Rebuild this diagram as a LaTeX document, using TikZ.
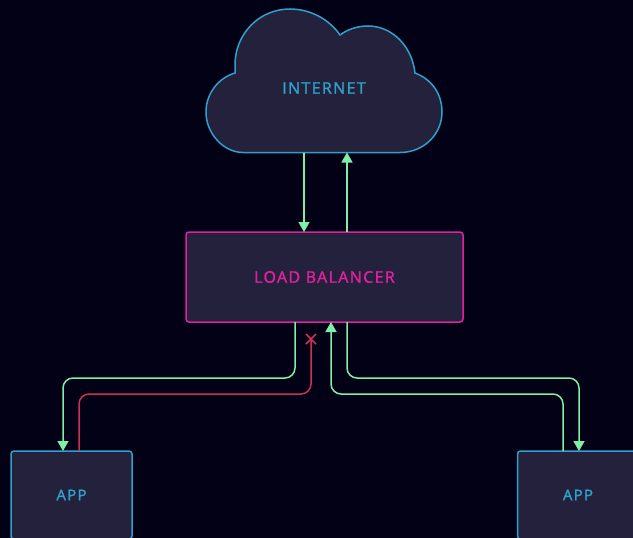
\documentclass[tikz,border=0pt]{standalone}
\usepackage{fontspec}
\setmainfont{Open Sans}[LetterSpace=8.5, FakeBold=1.6]
\usetikzlibrary{arrows.meta}
\definecolor{pagebg}{HTML}{020116}
\definecolor{boxfill}{HTML}{24213D}
\definecolor{skyline}{HTML}{2FA2CC}
\definecolor{pinkline}{HTML}{E0209F}
\definecolor{greenline}{HTML}{7DEFA6}
\definecolor{redline}{HTML}{CC3052}
\tikzstyle{box}=[draw, fill=boxfill, line width=1.5pt, rounded corners=3pt, inner sep=0, outer sep=0]
\tikzstyle{appbox}=[box, draw=skyline, text=skyline, minimum width=121pt, minimum height=88pt, font=\fontsize{15}{18}\selectfont]
\tikzstyle{lbbox}=[box, draw=pinkline, text=pinkline, minimum width=277pt, minimum height=90pt, font=\fontsize{16}{19}\selectfont]
\tikzstyle{link}=[draw=greenline, line width=1.5pt, rounded corners=10pt]
\tikzstyle{linkarrow}=[link, -{Triangle[length=10pt, width=11pt]}]
\tikzstyle{badlink}=[link, draw=redline]
\begin{document}
\begin{tikzpicture}[x=1pt, y=-1pt]
        \clip (0, 0) rectangle (633, 538);
        \fill[pagebg] (0, 0) rectangle (633, 538);
        % Cloud outline.
        \draw[fill=boxfill, draw=skyline, line width=1.5pt] (243, 152.5) -- (400, 152.5)
            .. controls (424, 152.5) and (442, 134) .. (442, 112)
            .. controls (442, 93) and (431, 79) .. (415, 73)
            .. controls (412, 46) and (392, 26) .. (368, 26)
            .. controls (358, 26) and (348, 29) .. (340, 35)
            .. controls (329, 19) and (310, 9) .. (290, 9)
            .. controls (259, 9) and (235, 34) .. (235, 65)
            -- (235, 73)
            .. controls (218, 78) and (206, 94) .. (206, 112)
            .. controls (206, 134) and (224, 152.5) .. (243, 152.5) -- cycle;
        \node[text=skyline, font=\fontsize{16}{19}\selectfont] (internet) at (324, 88) {INTERNET};
        \coordinate (cloudIn) at (304, 152.5);
        \coordinate (cloudOut) at (347, 152.5);
        \node[lbbox] (LB) at (324.5, 277) {LOAD BALANCER};
        \node[appbox] (App1) at (71.5, 495) {APP};
        \node[appbox] (App2) at (578, 495) {APP};
        \coordinate (cross) at (311, 339);
        % Links to and from the cloud.
        \draw[linkarrow] (cloudIn) -- (cloudIn |- LB.north);
        \draw[linkarrow] (cloudOut |- LB.north) -- (cloudOut);
        % Links to and from the apps.
        \draw[linkarrow] (295, 322) |- (63, 378) -- (63, 451);
        \draw[linkarrow] (347, 322) |- (579, 378) -- (579, 451);
        \draw[linkarrow] (563, 451) |- (331, 394) -- (331, 322);
        \draw[badlink] (79, 451) |- (311, 394) -- (cross);
        \draw[draw=redline, line width=1.5pt] (cross) +(-5, -5) -- +(5, 5) (cross) +(-5, 5) -- +(5, -5);
    \end{tikzpicture}
\end{document}
